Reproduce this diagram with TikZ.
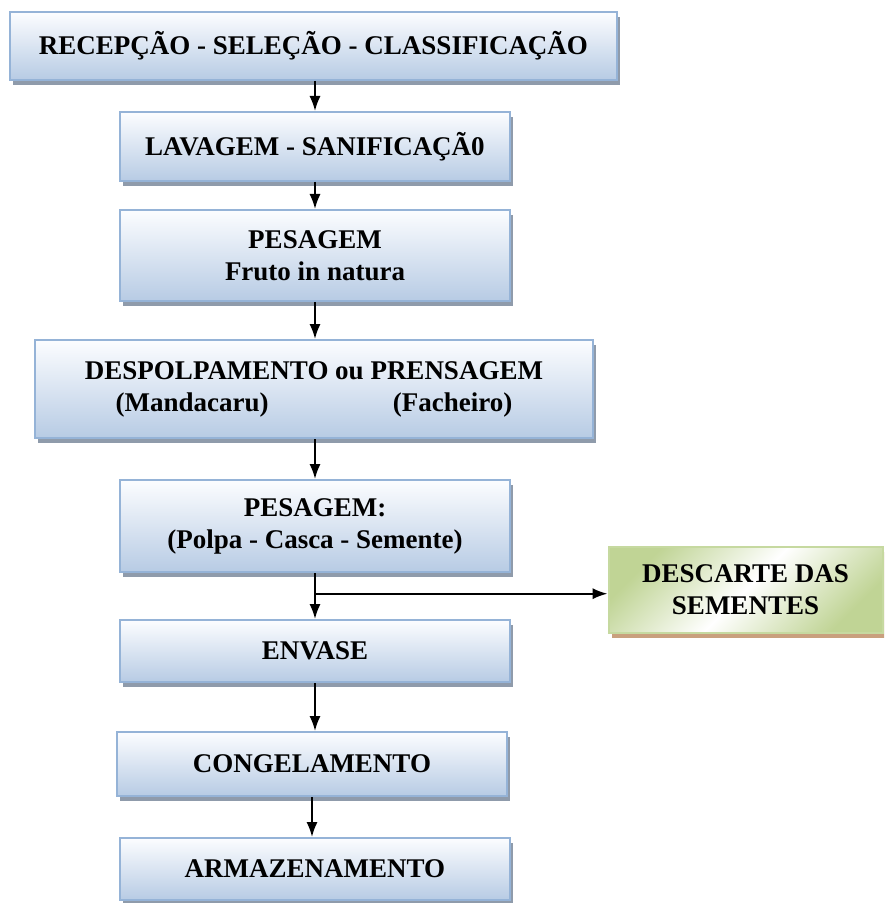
\documentclass[tikz,border=0pt]{standalone}
\usepackage{fontspec}
\setmainfont{Liberation Serif}
\usetikzlibrary{arrows.meta, calc, shadows}
\definecolor{BoxLine}{HTML}{95B3D7}
\definecolor{BoxTop}{HTML}{FCFDFF}
\definecolor{BoxBottom}{HTML}{B7CBE4}
\definecolor{BoxShadow}{HTML}{8F9BAB}
\definecolor{LeafGreen}{HTML}{C0D495}
\definecolor{LeafLine}{HTML}{C6D9A0}
\definecolor{LeafShadow}{HTML}{C9A07E}

\begin{document}
\begin{tikzpicture}[
        x=0.5pt,
        y=-0.5pt,
        font=\bfseries\fontsize{13.5}{16}\selectfont,
        flow/.style={-{Latex[length=7.5pt,width=5.6pt]}, line width=1pt, draw=black},
        stepbox/.style={draw=BoxLine, line width=1pt, top color=BoxTop, bottom color=BoxBottom, align=center, inner sep=2pt, minimum width=195pt,
          drop shadow={shadow xshift=1.6pt, shadow yshift=-2.6pt, fill=BoxShadow, opacity=1}},
        discardbox/.style={draw=LeafLine, line width=1pt, top color=LeafGreen, bottom color=LeafGreen, middle color=white, shading angle=45, align=center, inner sep=2pt,
          drop shadow={shadow xshift=1.6pt, shadow yshift=-2.6pt, fill=LeafShadow, opacity=1}}
      ]
        \useasboundingbox (0,0) rectangle (884,903);
        \clip (0,0) rectangle (884,903);

        \node[stepbox, minimum width=303.5pt, minimum height=34pt] (recep) at (313.5,46) {RECEPÇÃO - SELEÇÃO - CLASSIFICAÇÃO};
        \node[stepbox, minimum height=34.5pt] (lavag) at (315,146.5) {LAVAGEM - SANIFICAÇÃ0};
        \node[stepbox, minimum height=45.5pt] (pesag1) at (315,255.5) {PESAGEM\\Fruto in natura};
        \node[stepbox, minimum width=279pt, minimum height=49pt] (despolp) at (314,389) {DESPOLPAMENTO ou PRENSAGEM\\(Mandacaru)\hspace{4.6em}(Facheiro)};
        \node[stepbox, minimum height=46pt] (pesag2) at (315,526) {PESAGEM:\\(Polpa - Casca - Semente)};
        \node[stepbox, minimum height=31pt] (envase) at (315,651) {ENVASE};
        \node[stepbox, minimum height=32pt] (congel) at (312,764) {CONGELAMENTO};
        \node[stepbox, minimum height=31pt] (armaz) at (315,869) {ARMAZENAMENTO};

        \node[discardbox, minimum width=137pt, minimum height=43pt] (descarte) at (745.5,590) {DESCARTE DAS\\SEMENTES};

        \coordinate (split) at ($(pesag2.south)!0.45!(envase.north)$);

        \draw[flow] (recep.south -| lavag.north) -- (lavag.north);
        \draw[flow] (lavag) -- (pesag1);
        \draw[flow] (pesag1.south) -- (despolp.north -| pesag1.south);
        \draw[flow] (despolp.south -| pesag2.north) -- (pesag2.north);
        \draw[flow] (pesag2) -- (envase);
        \draw[flow] (split) -- (descarte.west |- split);
        \draw[flow] (envase.south) -- (congel.north -| envase.south);
        \draw[flow] (congel.south) -- (armaz.north -| congel.south);
      \end{tikzpicture}
\end{document}
